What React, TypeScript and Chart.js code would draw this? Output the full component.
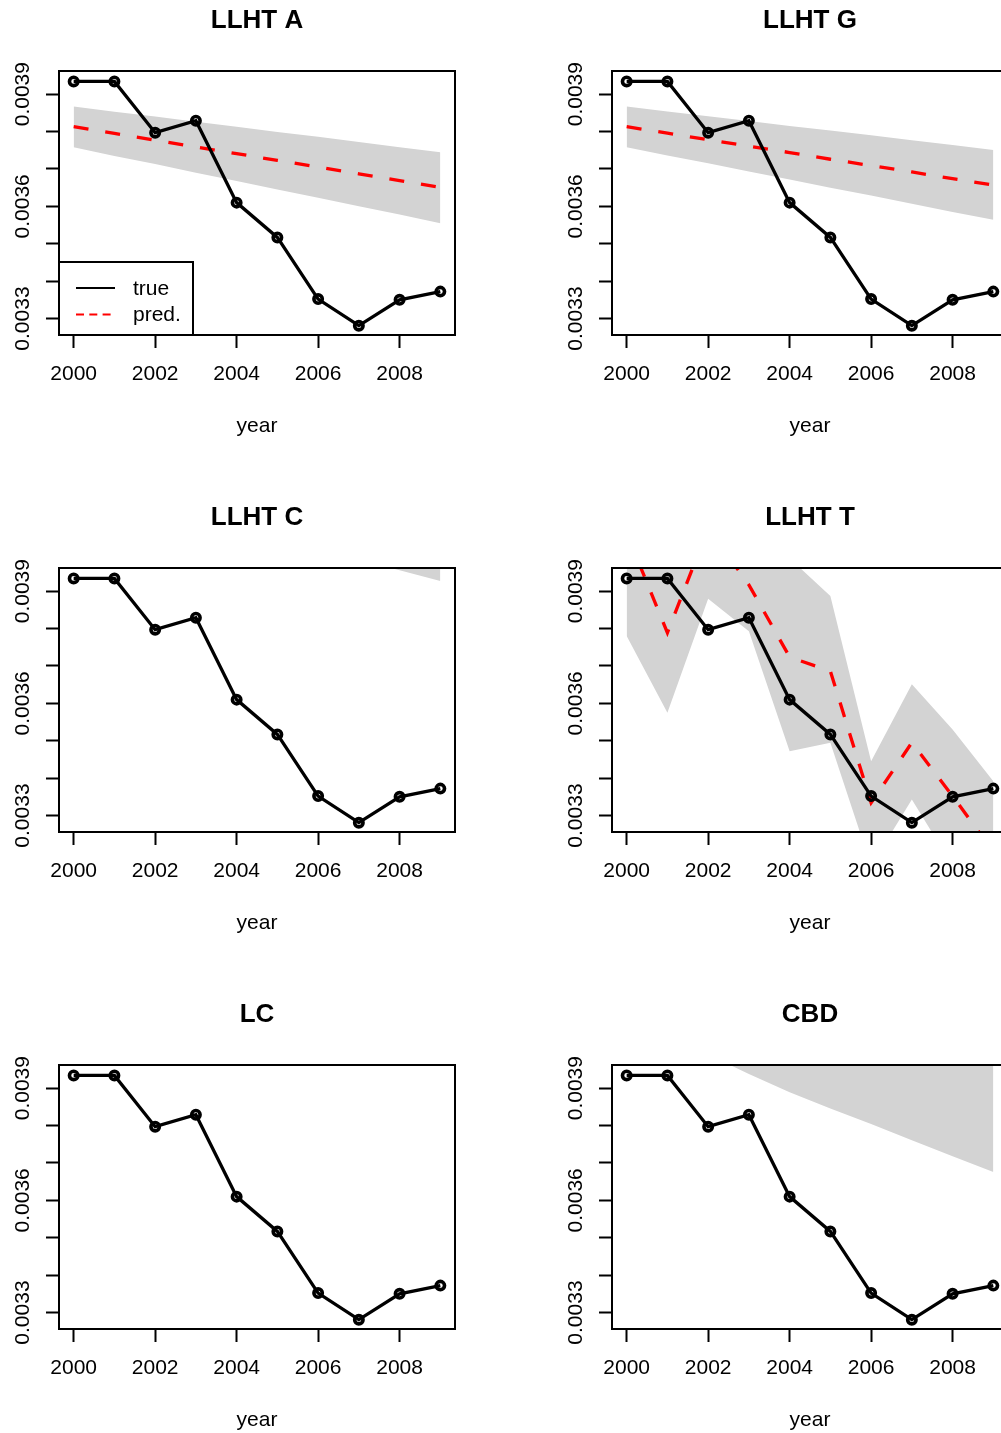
import React, { useEffect, useRef } from 'react';
import { Chart, registerables } from 'chart.js';

Chart.register(...registerables);

// ---------- data ----------
const years = [2000, 2001, 2002, 2003, 2004, 2005, 2006, 2007, 2008, 2009];
const trueRate = [0.003934, 0.003934, 0.003797, 0.003829, 0.00361, 0.003517, 0.003352, 0.003281, 0.00335, 0.003372];

const predA = [0.003813, 0.003795, 0.003777, 0.003759, 0.003741, 0.003723, 0.003705, 0.003687, 0.003669, 0.003651];
const upperA = [0.003867, 0.003853, 0.00384, 0.003826, 0.003813, 0.003799, 0.003786, 0.003772, 0.003758, 0.003745];
const lowerA = [0.003758, 0.003735, 0.003713, 0.00369, 0.003668, 0.003645, 0.003623, 0.0036, 0.003578, 0.003555];

const predG = [0.003813, 0.003796, 0.003778, 0.003761, 0.003744, 0.003726, 0.003709, 0.003692, 0.003674, 0.003657];
const upperG = [0.003867, 0.003854, 0.003841, 0.003828, 0.003815, 0.003803, 0.00379, 0.003777, 0.003764, 0.003751];
const lowerG = [0.003758, 0.003736, 0.003715, 0.003693, 0.003672, 0.00365, 0.003629, 0.003607, 0.003585, 0.003564];

const predC = [0.00436, 0.00433, 0.0043, 0.00427, 0.00424, 0.00421, 0.00418, 0.00415, 0.00412, 0.00409];
const upperC = [0.00453, 0.0045, 0.00447, 0.00444, 0.00441, 0.00438, 0.00435, 0.00432, 0.00429, 0.00426];
const lowerC = [0.00419, 0.00416, 0.00413, 0.0041, 0.00407, 0.00404, 0.00401, 0.003985, 0.003956, 0.003927];

const predT = [0.004055, 0.003789, 0.004068, 0.003917, 0.003724, 0.003686, 0.003334, 0.003495, 0.003352, 0.003204];
const upperT = [0.0042, 0.00412, 0.00425, 0.00412, 0.003988, 0.003887, 0.003445, 0.003651, 0.00353, 0.003392];
const lowerT = [0.00378, 0.003575, 0.00388, 0.003793, 0.003472, 0.003495, 0.003165, 0.003343, 0.003165, 0.00316];

const predCBD = [0.00441, 0.00437, 0.00433, 0.00429, 0.00425, 0.00422, 0.00419, 0.00416, 0.00413, 0.0041];
const upperCBD = [0.00472, 0.00469, 0.00466, 0.00463, 0.0046, 0.00457, 0.00454, 0.00451, 0.00448, 0.00445];
const lowerCBD = [0.0041, 0.00404, 0.00399, 0.003938, 0.003889, 0.003846, 0.003804, 0.003761, 0.003718, 0.003676];

const panelTitles = ['LLHT A', 'LLHT G', 'LLHT C', 'LLHT T', 'LC', 'CBD'];
const xTickValues = [2000, 2002, 2004, 2006, 2008];
const yTickValues = [0.0033, 0.0034, 0.0035, 0.0036, 0.0037, 0.0038, 0.0039];
const yTickLabels = ['0.0033', '', '', '0.0036', '', '', '0.0039'];
const legendLabels = ['true', 'pred.'];
const xLabel = 'year';

// axis limits (R style 4% extension)
const X_MIN = 1999.64;
const X_MAX = 2009.36;
const Y_MIN = 0.003256;
const Y_MAX = 0.003962;

// ---------- layout ----------
const FONT = "'Liberation Sans', Arial, Helvetica, sans-serif";
const PANEL_W = 553;
const PANEL_H = 497;
const PLOT_LEFT = 59;
const PLOT_RIGHT_PAD = 98;
const X_AXIS_H = 162;
const TEXT_SIZE = 21;

type Panel = {
  title: string;
  pred?: number[];
  upper?: number[];
  lower?: number[];
  legend?: boolean;
};

const panels: Panel[] = [
  { title: panelTitles[0], pred: predA, upper: upperA, lower: lowerA, legend: true },
  { title: panelTitles[1], pred: predG, upper: upperG, lower: lowerG },
  { title: panelTitles[2], pred: predC, upper: upperC, lower: lowerC },
  { title: panelTitles[3], pred: predT, upper: upperT, lower: lowerT },
  { title: panelTitles[4] },
  { title: panelTitles[5], pred: predCBD, upper: upperCBD, lower: lowerCBD },
];

const toPts = (arr: number[]) => years.map((x, i) => ({ x, y: arr[i] }));

const framePlugin = (withLegend: boolean) => ({
  id: 'frameAndLegend',
  afterDatasetsDraw(chart: any) {
    const { ctx, chartArea: ca } = chart;
    ctx.save();
    ctx.strokeStyle = '#000';
    ctx.lineWidth = 2;
    ctx.setLineDash([]);
    ctx.strokeRect(ca.left, ca.top, ca.right - ca.left, ca.bottom - ca.top);
    if (withLegend) {
      const w = 134;
      const h = 73;
      const x0 = ca.left;
      const y0 = ca.bottom - h;
      ctx.fillStyle = '#fff';
      ctx.fillRect(x0, y0, w, h);
      ctx.strokeRect(x0, y0, w, h);
      const rowsY = [y0 + 26, y0 + 52.5];
      ctx.lineWidth = 2;
      ctx.strokeStyle = '#000';
      ctx.beginPath();
      ctx.moveTo(x0 + 17, rowsY[0]);
      ctx.lineTo(x0 + 56, rowsY[0]);
      ctx.stroke();
      ctx.strokeStyle = '#ff0000';
      ctx.setLineDash([8, 5.3]);
      ctx.beginPath();
      ctx.moveTo(x0 + 17, rowsY[1]);
      ctx.lineTo(x0 + 56, rowsY[1]);
      ctx.stroke();
      ctx.setLineDash([]);
      ctx.fillStyle = '#000';
      ctx.font = `${TEXT_SIZE}px ${FONT}`;
      ctx.textAlign = 'left';
      ctx.textBaseline = 'middle';
      ctx.fillText(legendLabels[0], x0 + 74, rowsY[0] + 1);
      ctx.fillText(legendLabels[1], x0 + 74, rowsY[1] + 1);
    }
    ctx.restore();
  },
});

function makeConfig(p: Panel): any {
  const datasets: any[] = [
    {
      label: legendLabels[0],
      data: toPts(trueRate),
      borderColor: '#000',
      borderWidth: 3.3,
      pointRadius: 4.2,
      pointBorderWidth: 3.6,
      pointBorderColor: '#000',
      pointBackgroundColor: 'rgba(0,0,0,0)',
      tension: 0,
      fill: false,
    },
  ];
  if (p.pred) {
    datasets.push({
      label: legendLabels[1],
      data: toPts(p.pred),
      borderColor: '#ff0000',
      borderWidth: 3.3,
      borderDash: [15, 17],
      borderCapStyle: 'butt',
      pointRadius: 0,
      tension: 0,
      fill: false,
    });
  }
  if (p.upper && p.lower) {
    datasets.push({
      label: 'upper',
      data: toPts(p.upper),
      borderColor: 'rgba(0,0,0,0)',
      borderWidth: 1,
      backgroundColor: '#D3D3D3',
      pointRadius: 0,
      tension: 0,
      fill: '+1',
    });
    datasets.push({
      label: 'lower',
      data: toPts(p.lower),
      borderColor: 'rgba(0,0,0,0)',
      borderWidth: 1,
      pointRadius: 0,
      tension: 0,
      fill: false,
    });
  }
  const tickGrid = {
    display: true,
    drawOnChartArea: false,
    drawTicks: true,
    tickLength: 13,
    tickWidth: 2,
    tickColor: '#000',
  };
  return {
    type: 'line',
    data: { datasets },
    options: {
      animation: false,
      responsive: false,
      events: [],
      layout: { padding: { left: 0, right: PLOT_RIGHT_PAD, top: 0, bottom: 0 } },
      plugins: {
        legend: { display: false },
        tooltip: { enabled: false },
        title: {
          display: true,
          fullSize: false,
          text: p.title,
          color: '#000',
          font: { family: FONT, size: 26, weight: 'bold', lineHeight: 1.2 },
          padding: { top: 5.6, bottom: 34.2 },
        },
      },
      scales: {
        x: {
          type: 'linear',
          min: X_MIN,
          max: X_MAX,
          afterBuildTicks: (s: any) => {
            s.ticks = xTickValues.map((v) => ({ value: v }));
          },
          afterFit: (s: any) => {
            s.height = X_AXIS_H;
          },
          border: { display: false },
          grid: tickGrid,
          ticks: {
            autoSkip: false,
            maxRotation: 0,
            minRotation: 0,
            padding: 14,
            color: '#000',
            font: { family: FONT, size: TEXT_SIZE },
            callback: (v: any) => String(v),
          },
          title: {
            display: true,
            text: xLabel,
            color: '#000',
            font: { family: FONT, size: TEXT_SIZE, lineHeight: 1.2 },
            padding: { top: 0, bottom: 58.5 },
          },
        },
        y: {
          type: 'linear',
          min: Y_MIN,
          max: Y_MAX,
          afterBuildTicks: (s: any) => {
            s.ticks = yTickValues.map((v) => ({ value: v }));
          },
          afterFit: (s: any) => {
            s.width = PLOT_LEFT;
          },
          border: { display: false },
          grid: tickGrid,
          ticks: {
            autoSkip: false,
            minRotation: 90,
            maxRotation: 90,
            crossAlign: 'center',
            padding: -9,
            color: '#000',
            font: { family: FONT, size: TEXT_SIZE },
            callback: (_v: any, i: number) => yTickLabels[i],
          },
        },
      },
    },
    plugins: [framePlugin(!!p.legend)],
  };
}

function PanelChart({ panel }: { panel: Panel }) {
  const ref = useRef<HTMLCanvasElement | null>(null);
  useEffect(() => {
    if (!ref.current) return;
    const chart = new Chart(ref.current, makeConfig(panel));
    return () => chart.destroy();
  }, [panel]);
  return <canvas ref={ref} width={PANEL_W} height={PANEL_H} style={{ display: 'block', width: PANEL_W, height: PANEL_H }} />;
}

export default function App() {
  return (
    <div
      style={{
        position: 'absolute',
        left: 0,
        top: 0,
        width: 1001,
        height: 1433,
        overflow: 'hidden',
        background: '#fff',
      }}
    >
      {panels.map((p, i) => (
        <div
          key={p.title}
          style={{
            position: 'absolute',
            left: (i % 2) * PANEL_W,
            top: Math.floor(i / 2) * PANEL_H,
            width: PANEL_W,
            height: PANEL_H,
          }}
        >
          <PanelChart panel={p} />
        </div>
      ))}
    </div>
  );
}
